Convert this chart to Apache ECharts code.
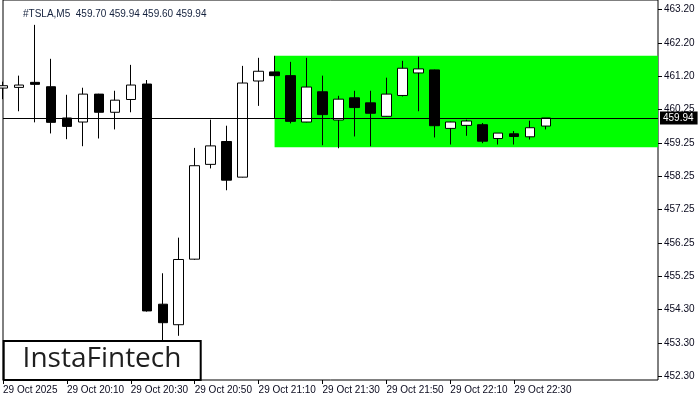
<!DOCTYPE html>
<html>
<head>
<meta charset="utf-8">
<title>#TSLA,M5</title>
<script src="https://cdn.jsdelivr.net/npm/echarts@6/dist/echarts.min.js"></script>
<style>
  html, body { margin: 0; padding: 0; background: #fff; }
  #chart { width: 700px; height: 400px; }
</style>
</head>
<body>
<div id="chart"></div>
<script>
// M5 bars, 29 Oct 2025
const times = ['19:50', '19:55', '20:00', '20:05', '20:10', '20:15', '20:20', '20:25', '20:30', '20:35',
  '20:40', '20:45', '20:50', '20:55', '21:00', '21:05', '21:10', '21:15', '21:20', '21:25',
  '21:30', '21:35', '21:40', '21:45', '21:50', '21:55', '22:00', '22:05', '22:10', '22:15',
  '22:20', '22:25', '22:30', '22:35', '22:40']
// empty space on the right of the last bar
const futureSlots = ['22:45', '22:50', '22:55', '23:00', '23:05', '23:10', '23:15']

const opens = [460.83, 460.85, 461.00, 460.87, 459.94, 459.82, 460.65, 460.11, 460.49, 460.95,
  454.40, 453.79, 455.74, 458.56, 459.24, 458.18, 461.04, 461.31, 461.20, 459.82,
  460.72, 459.88, 460.54, 460.39, 459.99, 460.61, 461.28, 461.37, 459.63, 459.72,
  459.74, 459.33, 459.47, 459.38, 459.70]
const closes = [460.90, 460.92, 460.94, 459.81, 459.69, 460.65, 460.11, 460.47, 460.92, 454.20,
  453.85, 455.73, 458.52, 459.11, 458.09, 460.98, 461.33, 461.20, 459.84, 460.86,
  460.04, 460.50, 460.25, 460.08, 460.65, 461.42, 461.40, 459.71, 459.82, 459.85,
  459.25, 459.49, 459.39, 459.65, 459.94]
const lows = [460.50, 460.14, 459.81, 459.48, 459.31, 459.10, 459.33, 459.60, 460.11, 454.18,
  453.20, 453.46, 455.72, 458.44, 457.79, 458.17, 460.30, 459.94, 459.78, 459.81,
  459.13, 459.04, 459.39, 459.10, 459.98, 460.58, 460.14, 459.36, 459.15, 459.41,
  459.19, 459.15, 459.15, 459.30, 459.60]
const highs = [461.02, 461.20, 462.71, 461.70, 460.63, 460.84, 460.66, 460.75, 461.52, 461.07,
  455.32, 456.38, 459.05, 459.89, 459.71, 461.49, 461.73, 461.79, 461.61, 461.73,
  461.20, 460.60, 460.75, 460.75, 461.14, 461.64, 461.76, 461.38, 459.83, 459.89,
  459.79, 459.49, 459.55, 459.86, 459.94]

// price scale ticks (MT4 rounds the labels)
const tickValues = [463.16, 462.17, 461.18, 460.19, 459.20, 458.21, 457.21, 456.22, 455.23, 454.24, 453.25, 452.26]
const tickLabels = ['463.20', '462.20', '461.20', '460.25', '459.25', '458.25', '457.25', '456.25', '455.25', '454.30', '453.30', '452.30']

// green zone (starts at 21:15 bar)
const zoneStart = '21:15'
const zoneLow = 459.07
const zoneHigh = 461.79

const lastPrice = 459.94

const chart = echarts.init(document.getElementById('chart'))

const candles = opens.map((o, i) => [o, closes[i], lows[i], highs[i]])
const last = opens.length - 1
const titleText = '#TSLA,M5  ' + [opens[last], highs[last], lows[last], closes[last]].map(v => v.toFixed(2)).join(' ')

const axisFont = { fontFamily: 'Liberation Sans', fontSize: 10, color: '#0a0a1e' }

const option = {
  animation: false,
  backgroundColor: '#fff',
  title: {
    text: titleText,
    left: 18,
    top: 4,
    textStyle: { fontFamily: 'Liberation Sans', fontSize: 10, fontWeight: 'normal', color: '#14213d' }
  },
  // top edge sits just above the window, like the terminal frame
  grid: {
    left: 3,
    top: -1,
    width: 655,
    height: 381,
    show: true,
    borderColor: '#000',
    borderWidth: 1,
    backgroundColor: '#fff'
  },
  xAxis: {
    type: 'category',
    data: times.concat(futureSlots),
    boundaryGap: false,
    axisLine: { show: false },
    axisTick: {
      show: true,
      length: 4,
      lineStyle: { color: '#000' },
      interval: (i) => i % 4 === 0 && i < times.length
    },
    axisLabel: Object.assign({
      interval: (i) => i % 4 === 0 && i < times.length,
      align: 'left',
      margin: 5,
      formatter: (v, i) => i === 0 ? '29 Oct 2025' : '29 Oct ' + v
    }, axisFont),
    splitLine: { show: false }
  },
  yAxis: {
    type: 'value',
    position: 'right',
    min: 452.145,
    max: 463.45,
    axisLine: { show: false },
    axisTick: {
      show: true,
      length: 4,
      lineStyle: { color: '#000' },
      customValues: tickValues
    },
    axisLabel: Object.assign({
      customValues: tickValues,
      margin: 6,
      formatter: (v) => {
        let best = 0
        tickValues.forEach((t, i) => { if (Math.abs(t - v) < Math.abs(tickValues[best] - v)) best = i })
        return tickLabels[best]
      }
    }, axisFont),
    splitLine: { show: false }
  },
  series: [
    {
      type: 'candlestick',
      data: candles,
      barWidth: 10,
      itemStyle: {
        color: '#ffffff',
        color0: '#000000',
        borderColor: '#000000',
        borderColor0: '#000000',
        borderWidth: 1
      },
      markArea: {
        silent: true,
        itemStyle: { color: '#00ff00', opacity: 1 },
        data: [[
          { xAxis: zoneStart, yAxis: zoneLow },
          { xAxis: futureSlots[futureSlots.length - 1], yAxis: zoneHigh }
        ]]
      },
      markLine: {
        silent: true,
        symbol: 'none',
        lineStyle: { color: '#000', width: 1, type: 'solid' },
        label: {
          show: true,
          position: 'end',
          distance: 2,
          formatter: lastPrice.toFixed(2),
          backgroundColor: '#000',
          color: '#fff',
          fontFamily: 'Liberation Sans',
          fontSize: 10,
          padding: [2, 4, 1, 3]
        },
        data: [{ yAxis: lastPrice }]
      }
    }
  ],
  graphic: [
    {
      type: 'rect',
      z: 100,
      shape: { x: 3.7, y: 341, width: 197, height: 39 },
      style: { fill: '#fff', stroke: '#000', lineWidth: 2 }
    },
    {
      type: 'text',
      z: 101,
      x: 102,
      y: 359,
      style: {
        text: 'InstaFintech',
        font: '28px "Open Sans"',
        fill: '#1e1e1e',
        textAlign: 'center',
        textVerticalAlign: 'middle'
      }
    }
  ]
}

chart.setOption(option)
</script>
</body>
</html>
